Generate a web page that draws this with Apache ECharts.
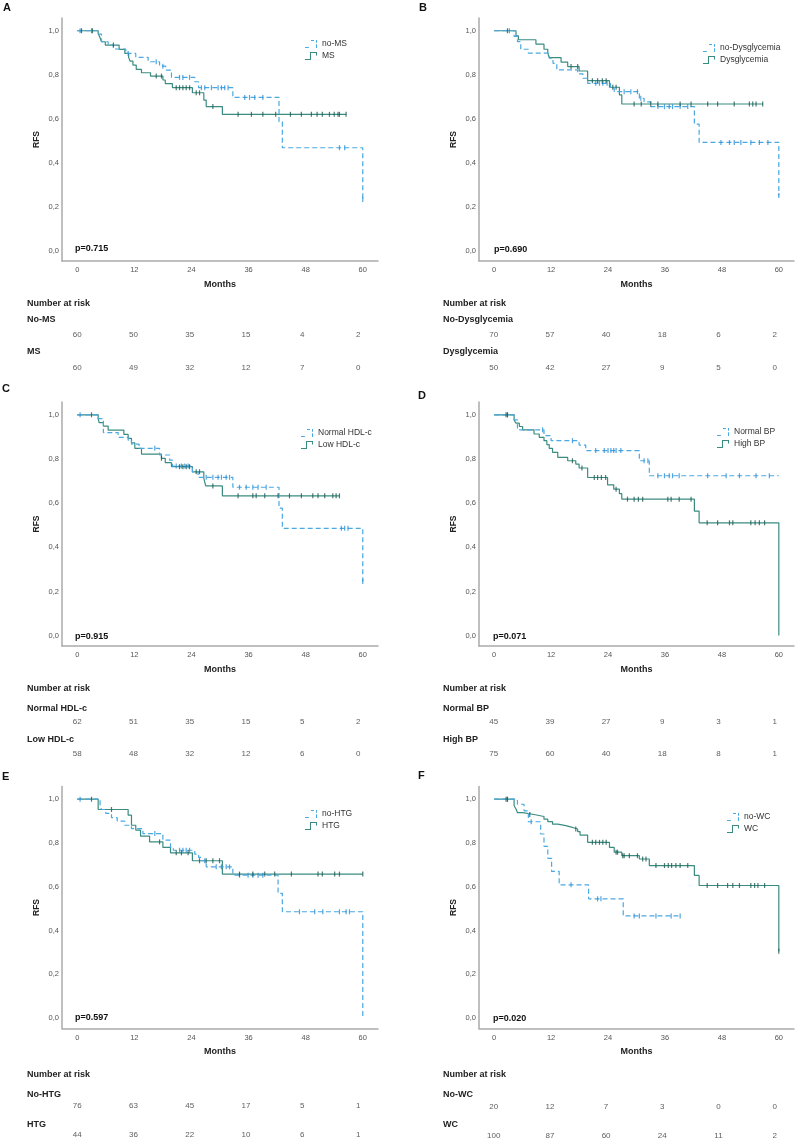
<!DOCTYPE html>
<html>
<head>
<meta charset="utf-8">
<script src="https://cdn.jsdelivr.net/npm/echarts@6/dist/echarts.min.js"></script>
<style>
html,body{margin:0;padding:0;background:#fff;}
#chart{width:795px;height:1144px;}
</style>
</head>
<body>
<div id="chart"></div>
<script>
// ---------- tick labels ----------
const monthTicks = [0, 12, 24, 36, 48, 60];
const rfsTicks = [0, 0.2, 0.4, 0.6, 0.8, 1.0];

// ---------- Panel A ----------
const A_noMS_steps = [[0,1],[4.4,0.985],[5.1,0.95],[6.5,0.935],[7.6,0.917],[10.2,0.897],[12.3,0.879],[14.9,0.859],[17.3,0.839],[18.6,0.821],[19.8,0.788],[24.7,0.768],[25.5,0.741],[32.7,0.697],[42.4,0.586],[43.1,0.468],[60,0.233]];
const A_noMS_cens = [0.6,3.0,10.7,16.6,18,21.5,22.2,23.6,26.1,26.8,28.2,29.6,30.3,31,31.7,35.2,36.2,37.3,39,55.1,56.2,60];
const A_MS_steps = [[0,1],[4.4,0.988],[4.8,0.968],[5.1,0.95],[5.9,0.935],[8.8,0.915],[10,0.897],[10.8,0.879],[11.1,0.862],[11.7,0.844],[12.4,0.824],[13.5,0.809],[15.4,0.794],[18,0.776],[18.5,0.76],[20,0.741],[24.2,0.718],[26.6,0.685],[27.1,0.655],[30.5,0.62],[56.5,0.62]];
const A_MS_cens = [0.9,3.2,7.6,16.6,17.7,20.8,21.5,22.2,22.9,23.6,25,25.7,28.5,33.8,36.6,39,41.7,44.8,47.1,49.2,50.4,51.5,53,54,54.8,55.1,56.5];
const A_risk1 = [60, 50, 35, 15, 4, 2];
const A_risk2 = [60, 49, 32, 12, 7, 0];

// ---------- Panel B ----------
const B_noD_steps = [[0,1],[4.2,0.974],[4.9,0.951],[5.6,0.916],[7.2,0.898],[11.6,0.875],[12.4,0.852],[13.2,0.822],[17.6,0.804],[18.7,0.784],[19.7,0.761],[24.5,0.741],[25.3,0.723],[30.6,0.693],[31.6,0.677],[33,0.655],[42.2,0.575],[43.2,0.492],[60,0.251]];
const B_noD_cens = [3.2,21.4,22.2,22.9,23.8,27.4,28.8,30.2,30.9,34.5,35.9,36.9,37.6,39.2,40.8,47.8,49.6,50.6,52,54.1,55.9,57.7,60];
const B_D_steps = [[0,1],[4.6,0.977],[5.1,0.959],[8.8,0.939],[10.5,0.916],[11.3,0.898],[11.6,0.878],[14.1,0.857],[15.5,0.837],[17.9,0.817],[19.7,0.773],[24.3,0.743],[26.4,0.708],[26.9,0.667],[56.6,0.667]];
const B_D_cens = [2.8,16.2,17.6,20.7,21.8,22.8,23.6,25,25.7,29.5,31,33,34.5,39.2,41.5,45,47.1,50.6,53.8,54.5,55.2,56.6];
const B_risk1 = [70, 57, 40, 18, 6, 2];
const B_risk2 = [50, 42, 27, 9, 5, 0];

// ---------- Panel C ----------
const C_norm_steps = [[0,1],[4.4,0.983],[5.5,0.919],[8.6,0.898],[10.7,0.885],[11.4,0.867],[13,0.848],[17.3,0.818],[19.4,0.795],[20,0.768],[24.2,0.742],[25.4,0.717],[32.7,0.672],[42.4,0.577],[43.1,0.486],[60,0.245]];
const C_norm_cens = [0.6,16.3,20.8,21.9,22.6,23.3,27.1,28.5,29.6,30.3,31.3,32,34.1,35.5,36.9,38,39.7,55.5,56.2,56.9,60];
const C_low_steps = [[0,1],[4.4,0.983],[4.6,0.965],[5.5,0.949],[6.5,0.931],[9.8,0.911],[10.7,0.893],[11.4,0.873],[12.1,0.848],[13.5,0.822],[17.7,0.803],[18.5,0.783],[19.8,0.765],[24.2,0.742],[26.6,0.712],[27,0.678],[30.5,0.633],[55.1,0.633]];
const C_low_cens = [3.0,17.7,21.5,22.2,22.9,23.6,25,25.7,28.5,33.8,36.9,37.6,39.4,42.2,44.6,47.1,49.5,50.6,52,53.7,54.4,55.1];
const C_risk1 = [62, 51, 35, 15, 5, 2];
const C_risk2 = [58, 48, 32, 12, 6, 0];

// ---------- Panel D ----------
const D_norm_steps = [[0,1],[4.2,0.977],[4.9,0.932],[10.5,0.906],[12,0.883],[17.9,0.863],[19.3,0.838],[30.6,0.792],[32.7,0.724],[60,0.724]];
const D_norm_cens = [2.8,10.2,16.5,21.4,23.2,24,24.6,25.2,25.7,26.7,31.6,32.4,34.5,35.9,36.9,37.6,39,45,48.9,51.7,55.2,58];
const D_high_steps = [[0,1],[4.2,0.977],[4.6,0.962],[5.3,0.947],[6,0.932],[8.4,0.913],[9.5,0.898],[10.5,0.883],[11.1,0.865],[11.6,0.848],[12.3,0.83],[13.4,0.807],[15.5,0.792],[17.2,0.777],[17.9,0.759],[19.7,0.716],[23.9,0.683],[25.2,0.663],[26.4,0.643],[26.9,0.618],[42.2,0.564],[43.2,0.511],[60,0]];
const D_high_cens = [2.5,2.8,16.5,18.5,21.1,21.8,22.6,23.5,25.7,28.1,29.5,30.4,31.3,36.6,37.3,39,41.5,44.9,47.1,49.6,50.3,54.1,55,55.9,57];
const D_risk1 = [45, 39, 27, 9, 3, 1];
const D_risk2 = [75, 60, 40, 18, 8, 1];

// ---------- Panel E ----------
const E_no_steps = [[0,1],[4.8,0.976],[5.1,0.953],[6,0.935],[7.2,0.916],[8.4,0.9],[10,0.881],[11.4,0.866],[13.8,0.843],[18,0.813],[19.6,0.78],[20.2,0.767],[24.7,0.749],[25.5,0.734],[26.1,0.719],[27.1,0.691],[32.7,0.653],[42.2,0.57],[43.1,0.486],[60,0]];
const E_no_cens = [0.6,16.3,21.5,22.2,22.9,23.6,26.8,29.2,30.3,31.3,32,34.1,35.9,36.9,38,39,46.7,49.9,51.6,55.1,56.5,57.2];
const E_htg_steps = [[0,1],[4.4,0.953],[10.7,0.927],[11.4,0.881],[12.3,0.859],[13.3,0.831],[15.2,0.805],[18,0.78],[19.6,0.755],[24.2,0.719],[30.5,0.658],[60,0.658]];
const E_htg_cens = [3.0,7.2,17.3,20.8,21.9,23.3,25.7,27.1,28.5,29.9,34.1,36.9,39.4,41.5,45,50.6,51.5,54.1,55.1,60];
const E_risk1 = [76, 63, 45, 17, 5, 1];
const E_risk2 = [44, 36, 22, 10, 6, 1];

// ---------- Panel F ----------
const F_no_steps = [[0,1],[4.9,0.977],[6.3,0.947],[7.2,0.897],[9.8,0.841],[10.5,0.785],[11.3,0.73],[12.1,0.67],[13.7,0.609],[19.9,0.545],[27.2,0.467],[39.2,0.467]];
const F_no_cens = [2.8,7.8,16.2,21.8,22.5,29.5,30.6,34.1,37.3,39.2];
const F_wc_steps = [[0,1],[4.2,0.97],[4.6,0.955],[4.9,0.939],[6,0.93],[8.4,0.921],[10.5,0.909],[11.3,0.898],[12.3,0.886],[13.4,0.879],[15.1,0.871],[16.5,0.864],[17.6,0.852],[18.1,0.836],[19.7,0.803],[24.3,0.78],[25.3,0.758],[26.9,0.742],[30.6,0.727],[32.7,0.697],[42.2,0.652],[43.2,0.606],[60,0.306]];
const F_wc_cens = [2.5,2.8,7.5,17.2,20.7,21.4,22.2,22.9,23.6,25.7,26,27.1,27.4,28.5,30.2,31.3,32,34.1,35.9,36.7,37.4,38.3,39.2,40.8,44.9,47.1,49.2,50.3,51.7,54.1,54.9,55.6,57,60];
const F_risk1 = [20, 12, 7, 3, 0, 0];
const F_risk2 = [100, 87, 60, 24, 11, 2];

// ---------- labels ----------
const panelLetters = ['A','B','C','D','E','F'];
const pValues = ['p=0.715','p=0.690','p=0.915','p=0.071','p=0.597','p=0.020'];
const legendNames = [['no-MS','MS'],['no-Dysglycemia','Dysglycemia'],['Normal HDL-c','Low HDL-c'],['Normal BP','High BP'],['no-HTG','HTG'],['no-WC','WC']];
const riskNames = [['No-MS','MS'],['No-Dysglycemia','Dysglycemia'],['Normal HDL-c','Low HDL-c'],['Normal BP','High BP'],['No-HTG','HTG'],['No-WC','WC']];
const stepsData = [[A_noMS_steps,A_MS_steps],[B_noD_steps,B_D_steps],[C_norm_steps,C_low_steps],[D_norm_steps,D_high_steps],[E_no_steps,E_htg_steps],[F_no_steps,F_wc_steps]];
const censData = [[A_noMS_cens,A_MS_cens],[B_noD_cens,B_D_cens],[C_norm_cens,C_low_cens],[D_norm_cens,D_high_cens],[E_no_cens,E_htg_cens],[F_no_cens,F_wc_cens]];
const riskData = [[A_risk1,A_risk2],[B_risk1,B_risk2],[C_risk1,C_risk2],[D_risk1,D_risk2],[E_risk1,E_risk2],[F_risk1,F_risk2]];

// ---------- layout (pixels) ----------
const FONT = '"Liberation Sans", Arial, sans-serif';
const plotLeft = [62, 479], plotWidth = [316, 315];
const plotTop = [18, 402, 786.5], plotHeight = [243, 244, 242];
const riskLeft = [62.3, 478.7], riskWidth = 311;
const riskTop = [[335, 335],[722, 722],[1107, 1108]];
const riskHeight = [[33, 33],[32, 32],[31, 34]];
const labelX = [27, 443];
const labelY = [[304, 320, 352],[689, 709, 740],[1075, 1095, 1125]];
const letterPos = [[3,8],[419,8],[2,389],[418,396],[2,777],[418,776]];
const pPos = [[75,249],[494,250],[75,637],[493,637],[75,1018],[493,1019]];
const legendPos = [[305,39.5],[703,43.5],[301,428.5],[717,427.5],[305,809.5],[727,812.5]];

const DASH_COLOR = '#4aa8e2', SOLID_COLOR = '#3a8c81';
const DASH_CENS = '#2a8fd6', SOLID_CENS = '#1b5d53';
const iconSolid = 'path://M0,8h7v1.2h-7z M5.8,0h1.2v9.2h-1.2z M5.8,0h8.2v1.2h-8.2z M12.8,0h1.2v4h-1.2z';
const iconDash = 'path://M0,8h4.5v1.2h-4.5z M7,0h3.5v1.2h-3.5z M12.8,0h1.2v3h-1.2z M12.8,5h1.2v4.2h-1.2z';

function survAt(steps, t) {
  let s = steps[0][1];
  for (const p of steps) { if (p[0] <= t) s = p[1]; }
  return s;
}

const grid = [], xAxis = [], yAxis = [], series = [], legend = [], graphic = [];

for (let i = 0; i < 6; i++) {
  const col = i % 2, row = Math.floor(i / 2);
  const gPlot = grid.length;
  grid.push({left: plotLeft[col], top: plotTop[row], width: plotWidth[col], height: plotHeight[row], containLabel: false});
  xAxis.push({
    gridIndex: gPlot, type: 'value', min: -3.2, max: 63.2,
    name: 'Months', nameLocation: 'middle', nameGap: 19,
    nameTextStyle: {fontFamily: FONT, fontSize: 9, fontWeight: 'bold', color: '#222'},
    axisLine: {show: true, onZero: false, lineStyle: {color: '#aaaaaa', width: 1.5}},
    axisTick: {show: false},
    splitLine: {show: false},
    axisLabel: {customValues: monthTicks, margin: 5, fontFamily: FONT, fontSize: 7.5, color: '#555'}
  });
  yAxis.push({
    gridIndex: gPlot, type: 'value', min: -0.047, max: 1.058,
    name: 'RFS', nameLocation: 'middle', nameGap: 21,
    nameTextStyle: {fontFamily: FONT, fontSize: 8.5, fontWeight: 'bold', color: '#222'},
    axisLine: {show: true, onZero: false, lineStyle: {color: '#aaaaaa', width: 1.5}},
    axisTick: {show: false},
    splitLine: {show: false},
    axisLabel: {customValues: rfsTicks, margin: 3, fontFamily: FONT, fontSize: 7.5, color: '#555',
      formatter: v => v.toFixed(1).replace('.', ',')}
  });

  for (let g = 0; g < 2; g++) {
    const dashed = g === 0;
    const steps = stepsData[i][g];
    series.push({
      name: legendNames[i][g], type: 'line', step: 'end',
      xAxisIndex: gPlot, yAxisIndex: gPlot,
      data: steps, showSymbol: false, symbol: 'none', silent: true,
      itemStyle: {color: dashed ? DASH_COLOR : SOLID_COLOR},
      lineStyle: {color: dashed ? DASH_COLOR : SOLID_COLOR, width: 1.2, type: dashed ? [5, 3] : 'solid'},
      z: dashed ? 3 : 2
    });
    series.push({
      name: legendNames[i][g] + ' censored', type: 'scatter',
      xAxisIndex: gPlot, yAxisIndex: gPlot,
      data: censData[i][g].map(t => [t, survAt(steps, t)]),
      symbol: 'rect', symbolSize: [1.2, 5], silent: true,
      itemStyle: {color: dashed ? DASH_CENS : SOLID_CENS},
      z: 4
    });
  }

  legend.push({
    orient: 'vertical', left: legendPos[i][0], top: legendPos[i][1], padding: 0,
    itemWidth: 12, itemHeight: 9, itemGap: 3, selectedMode: false,
    textStyle: {fontFamily: FONT, fontSize: 8.5, color: '#333'},
    data: [
      {name: legendNames[i][0], icon: iconDash},
      {name: legendNames[i][1], icon: iconSolid}
    ]
  });

  // risk table grids (one per group)
  for (let g = 0; g < 2; g++) {
    const gRisk = grid.length;
    grid.push({left: riskLeft[col], top: riskTop[row][col] - 10, width: riskWidth, height: riskHeight[row][col] + 20});
    xAxis.push({gridIndex: gRisk, type: 'value', min: -3.2, max: 63.2, show: false});
    yAxis.push({gridIndex: gRisk, type: 'value', min: -10 / riskHeight[row][col], max: 1 + 10 / riskHeight[row][col], show: false});
    series.push({
      type: 'scatter', xAxisIndex: gRisk, yAxisIndex: gRisk, silent: true,
      symbolSize: 1, itemStyle: {color: 'rgba(0,0,0,0)'},
      data: riskData[i][g].map((v, k) => [monthTicks[k], g === 0 ? 1 : 0, v]),
      label: {show: true, position: 'inside', formatter: p => String(p.value[2]),
        fontFamily: FONT, fontSize: 8, color: '#333'}
    });
  }

  // texts
  graphic.push({type: 'text', x: letterPos[i][0], y: letterPos[i][1],
    style: {text: panelLetters[i], fontFamily: FONT, fontSize: 11, fontWeight: 'bold', fill: '#111', verticalAlign: 'middle'}});
  graphic.push({type: 'text', x: pPos[i][0], y: pPos[i][1],
    style: {text: pValues[i], fontFamily: FONT, fontSize: 9, fontWeight: 'bold', fill: '#111', verticalAlign: 'middle'}});
  graphic.push({type: 'text', x: labelX[col], y: labelY[row][0],
    style: {text: 'Number at risk', fontFamily: FONT, fontSize: 9, fontWeight: 'bold', fill: '#222', verticalAlign: 'middle'}});
  graphic.push({type: 'text', x: labelX[col], y: labelY[row][1],
    style: {text: riskNames[i][0], fontFamily: FONT, fontSize: 9, fontWeight: 'bold', fill: '#222', verticalAlign: 'middle'}});
  graphic.push({type: 'text', x: labelX[col], y: labelY[row][2],
    style: {text: riskNames[i][1], fontFamily: FONT, fontSize: 9, fontWeight: 'bold', fill: '#222', verticalAlign: 'middle'}});
}

const chart = echarts.init(document.getElementById('chart'), null, {renderer: 'canvas'});
chart.setOption({
  animation: false,
  backgroundColor: '#ffffff',
  grid, xAxis, yAxis, series, legend, graphic
});
</script>
</body>
</html>
